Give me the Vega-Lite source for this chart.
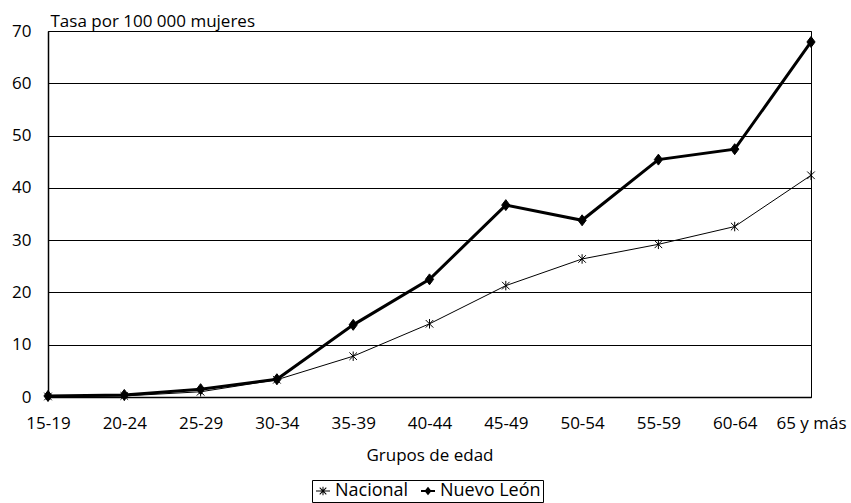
{
  "$schema": "https://vega.github.io/schema/vega-lite/v6.json",
  "width": 763,
  "height": 366,
  "autosize": {"type": "none"},
  "padding": {"left": 48, "top": 31, "right": 40, "bottom": 106},
  "background": "white",
  "config": {
    "font": "Open Sans",
    "view": {"stroke": "black", "strokeWidth": 1},
    "axis": {
      "labelFont": "Open Sans",
      "titleFont": "Open Sans",
      "labelColor": "black",
      "titleColor": "black",
      "domainColor": "black",
      "ticks": false,
      "titleFontWeight": "normal"
    },
    "legend": {
      "labelFont": "Open Sans",
      "labelColor": "black"
    }
  },
  "data": {
    "values": [
      {"grupo": "15-19", "serie": "Nacional", "tasa": 0.1},
      {"grupo": "20-24", "serie": "Nacional", "tasa": 0.2},
      {"grupo": "25-29", "serie": "Nacional", "tasa": 1.0},
      {"grupo": "30-34", "serie": "Nacional", "tasa": 3.3},
      {"grupo": "35-39", "serie": "Nacional", "tasa": 7.8},
      {"grupo": "40-44", "serie": "Nacional", "tasa": 14.0},
      {"grupo": "45-49", "serie": "Nacional", "tasa": 21.3},
      {"grupo": "50-54", "serie": "Nacional", "tasa": 26.4},
      {"grupo": "55-59", "serie": "Nacional", "tasa": 29.2},
      {"grupo": "60-64", "serie": "Nacional", "tasa": 32.6},
      {"grupo": "65 y más", "serie": "Nacional", "tasa": 42.4},
      {"grupo": "15-19", "serie": "Nuevo León", "tasa": 0.2},
      {"grupo": "20-24", "serie": "Nuevo León", "tasa": 0.4},
      {"grupo": "25-29", "serie": "Nuevo León", "tasa": 1.5},
      {"grupo": "30-34", "serie": "Nuevo León", "tasa": 3.4},
      {"grupo": "35-39", "serie": "Nuevo León", "tasa": 13.8},
      {"grupo": "40-44", "serie": "Nuevo León", "tasa": 22.5},
      {"grupo": "45-49", "serie": "Nuevo León", "tasa": 36.7},
      {"grupo": "50-54", "serie": "Nuevo León", "tasa": 33.8},
      {"grupo": "55-59", "serie": "Nuevo León", "tasa": 45.4},
      {"grupo": "60-64", "serie": "Nuevo León", "tasa": 47.4},
      {"grupo": "65 y más", "serie": "Nuevo León", "tasa": 67.9}
    ]
  },
  "encoding": {
    "x": {
      "field": "grupo",
      "type": "ordinal",
      "sort": null,
      "scale": {"type": "point", "padding": 0},
      "axis": {
        "title": "Grupos de edad",
        "labelAngle": 0,
        "labelFontSize": 17,
        "labelPadding": 18,
        "titleFontSize": 17,
        "titlePadding": 16,
        "domainWidth": 1.5
      }
    },
    "y": {
      "field": "tasa",
      "type": "quantitative",
      "scale": {"domain": [0, 70], "nice": false},
      "axis": {
        "values": [0, 10, 20, 30, 40, 50, 60, 70],
        "grid": true,
        "gridColor": "black",
        "gridWidth": 1,
        "labelFontSize": 17,
        "labelPadding": 17,
        "title": "Tasa por 100 000 mujeres",
        "titleAngle": 0,
        "titleAlign": "left",
        "titleBaseline": "alphabetic",
        "titleX": 2,
        "titleY": -5,
        "titleFontSize": 17,
        "domainWidth": 1.5
      }
    }
  },
  "layer": [
    {
      "mark": {"type": "line", "color": "black"},
      "encoding": {
        "detail": {"field": "serie"},
        "strokeWidth": {
          "field": "serie",
          "type": "nominal",
          "scale": {"domain": ["Nacional", "Nuevo León"], "range": [1, 3]},
          "legend": null
        }
      }
    },
    {
      "mark": {"type": "point", "filled": true, "color": "black", "stroke": "black", "strokeWidth": 1, "opacity": 1},
      "encoding": {
        "shape": {
          "field": "serie",
          "type": "nominal",
          "scale": {
            "domain": ["Nacional", "Nuevo León"],
            "range": ["M-0.8,-0.8L0.8,0.8M-0.8,0.8L0.8,-0.8M0,-1L0,1", "M0,-1L0.75,0L0,1L-0.75,0Z"]
          },
          "legend": null
        },
        "size": {
          "field": "serie",
          "type": "nominal",
          "scale": {"domain": ["Nacional", "Nuevo León"], "range": [90, 120]},
          "legend": null
        }
      }
    },
    {
      "transform": [{"filter": {"field": "tasa", "lt": -1}}],
      "mark": {"type": "point", "filled": true, "color": "black", "opacity": 1},
      "encoding": {
        "shape": {
          "field": "serie",
          "type": "nominal",
          "scale": {
            "domain": ["Nacional", "Nuevo León"],
            "range": [
              "M-1,-0.07L1,-0.07L1,0.07L-1,0.07ZM-0.42,-0.52L0.52,0.42L0.42,0.52L-0.52,-0.42ZM-0.52,0.42L0.42,-0.52L0.52,-0.42L-0.42,0.52ZM-0.07,-0.62L0.07,-0.62L0.07,0.62L-0.07,0.62Z",
              "M-1,-0.14L1,-0.14L1,0.14L-1,0.14ZM0,-0.6L0.5,0L0,0.6L-0.5,0Z"
            ]
          },
          "legend": {
            "title": null,
            "orient": "none",
            "legendX": 264,
            "legendY": 449,
            "direction": "horizontal",
            "strokeColor": "black",
            "padding": 2,
            "symbolSize": 196,
            "symbolFillColor": "black",
            "symbolStrokeWidth": 0,
            "labelFontSize": 18,
            "labelOffset": 3,
            "columnPadding": 10,
            "encode": {
              "symbols": {
                "update": {
                  "fill": {"value": "black"},
                  "fillOpacity": {"value": 1},
                  "opacity": {"value": 1}
                }
              }
            }
          }
        }
      }
    }
  ],
  "resolve": {"scale": {"shape": "independent"}, "legend": {"shape": "independent"}}
}
